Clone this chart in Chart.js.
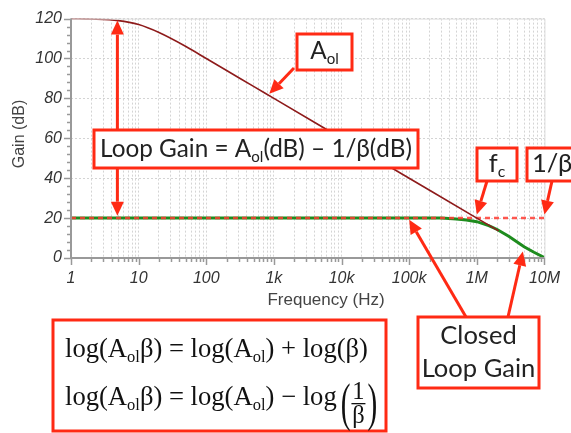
<!DOCTYPE html>
<html><head><meta charset="utf-8">
<script src="https://cdn.jsdelivr.net/npm/chart.js@4.4.0/dist/chart.umd.min.js"></script>
<style>html,body{margin:0;padding:0;background:#fff;overflow:hidden}#wrap{position:relative;width:571px;height:433px}</style>
</head><body><div id="wrap"><canvas id="c" width="571" height="433"></canvas></div>
<script>
// ---- data ----
const freqAol = [1, 2, 5, 10, 20, 50, 100, 200, 500, 1000, 1e4, 1e5, 1e6, 2.1e6];
const gainAol = [120, 119.8, 119, 117, 113, 106, 100, 94, 86, 80, 60, 40, 20, 13.6];
const freqCL  = [1, 10, 100, 1000, 1e4, 1e5, 3e5, 5e5, 7e5, 1e6, 1.5e6, 2e6, 3e6, 5e6, 7e6, 1e7];
const gainCL  = [20, 20, 20, 20, 20, 20, 20, 19.6, 19.0, 18.2, 16.2, 14.3, 10.8, 5.6, 2.9, 0.2];
const freqBeta = [1, 1e7];
const gainBeta = [20, 20];
const xMajorTicks = [1, 10, 100, 1000, 1e4, 1e5, 1e6, 1e7];
const xTickLabels = ['1', '10', '100', '1k', '10k', '100k', '1M', '10M'];
const yTicks = [0, 20, 40, 60, 80, 100, 120];

const RED = '#ff2a14';
const toXY = (xs, ys) => xs.map((x, i) => ({x: x, y: ys[i]}));

function partsWidth(ctx, parts, size, fam) {
  let w = 0;
  for (const p of parts) {
    ctx.font = (p.sub ? size * 0.62 : size) + 'px ' + fam;
    w += ctx.measureText(p.t).width;
  }
  return w;
}
function fitSize(ctx, parts, fam, target) {
  return 100 * target / partsWidth(ctx, parts, 100, fam);
}
function drawParts(ctx, parts, x, y, size, fam, align) {
  const w = partsWidth(ctx, parts, size, fam);
  let cx = align === 'center' ? x - w / 2 : x;
  ctx.textAlign = 'left';
  ctx.textBaseline = 'alphabetic';
  for (const p of parts) {
    ctx.font = (p.sub ? size * 0.62 : size) + 'px ' + fam;
    ctx.fillText(p.t, cx, p.sub ? y + size * 0.2 : y);
    cx += ctx.measureText(p.t).width;
  }
  return cx;
}
function box(ctx, x1, y1, x2, y2) {
  ctx.fillStyle = '#fff';
  ctx.fillRect(x1, y1, x2 - x1, y2 - y1);
  ctx.strokeStyle = RED;
  ctx.lineWidth = 3;
  ctx.strokeRect(x1, y1, x2 - x1, y2 - y1);
}
function arrow(ctx, x1, y1, x2, y2) {
  const a = Math.atan2(y2 - y1, x2 - x1), L = 14, H = 6.5;
  const bx = x2 - L * Math.cos(a), by = y2 - L * Math.sin(a);
  ctx.strokeStyle = RED; ctx.fillStyle = RED; ctx.lineWidth = 3;
  ctx.beginPath(); ctx.moveTo(x1, y1); ctx.lineTo(bx, by); ctx.stroke();
  ctx.beginPath();
  ctx.moveTo(x2, y2);
  ctx.lineTo(bx + H * Math.sin(a), by - H * Math.cos(a));
  ctx.lineTo(bx - H * Math.sin(a), by + H * Math.cos(a));
  ctx.closePath(); ctx.fill();
}

const SANS = 'Lato, "Open Sans", sans-serif';
const SERIF = '"Liberation Serif", "DejaVu Serif", serif';
const AXF = 'Arial, "Liberation Sans", sans-serif';

const overlay = {
  id: 'overlay',
  afterDraw(chart) {
    const ctx = chart.ctx, xs = chart.scales.x, ys = chart.scales.y, ca = chart.chartArea;
    ctx.save();
    // frame
    ctx.strokeStyle = '#dddddd'; ctx.lineWidth = 1;
    ctx.beginPath(); ctx.moveTo(ca.left, ca.top + 0.5); ctx.lineTo(ca.right + 0.5, ca.top + 0.5); ctx.lineTo(ca.right + 0.5, ca.bottom); ctx.stroke();
    // axes
    ctx.strokeStyle = '#999'; ctx.lineWidth = 2;
    ctx.beginPath(); ctx.moveTo(ca.left, ca.top); ctx.lineTo(ca.left, ca.bottom); ctx.lineTo(ca.right, ca.bottom); ctx.stroke();
    // y ticks
    ctx.lineWidth = 1.5;
    for (let v = 0; v <= 120; v += 4) {
      const y = Math.round(ys.getPixelForValue(v)) + 0.5;
      const len = v % 20 === 0 ? 7 : 4;
      ctx.beginPath(); ctx.moveTo(ca.left - len, y); ctx.lineTo(ca.left, y); ctx.stroke();
    }
    // x ticks
    for (let d = 0; d < 7; d++) {
      for (let m = 1; m <= 9; m++) {
        const x = Math.round(xs.getPixelForValue(m * Math.pow(10, d))) + 0.5;
        const len = m === 1 ? 7 : 4;
        ctx.beginPath(); ctx.moveTo(x, ca.bottom); ctx.lineTo(x, ca.bottom + len); ctx.stroke();
      }
    }
    { const x = Math.round(xs.getPixelForValue(1e7)) + 0.5;
      ctx.beginPath(); ctx.moveTo(x, ca.bottom); ctx.lineTo(x, ca.bottom + 7); ctx.stroke(); }

    // axis titles
    ctx.fillStyle = '#444';
    ctx.font = '17px ' + AXF;
    ctx.textAlign = 'center'; ctx.textBaseline = 'middle';
    ctx.fillText('Frequency (Hz)', 326, 300);
    ctx.font = '16px ' + AXF;
    ctx.save(); ctx.translate(20, 134); ctx.rotate(-Math.PI / 2);
    ctx.fillText('Gain (dB)', 0, 0); ctx.restore();

    // annotations
    const fx = 4.85;
    arrow(ctx, xs.getPixelForValue(fx), 130, xs.getPixelForValue(fx), ys.getPixelForValue(119));
    arrow(ctx, xs.getPixelForValue(fx), 168, xs.getPixelForValue(fx), ys.getPixelForValue(21.2));
    box(ctx, 94, 130, 418, 168);
    ctx.fillStyle = '#222';
    const lg = [{t: 'Loop Gain = A'}, {t: 'ol', sub: true}, {t: '(dB) \u2013 1/\u03b2(dB)'}];
    const lgSize = fitSize(ctx, lg, SANS, 312);
    drawParts(ctx, lg, 256, 157, lgSize, SANS, 'center');

    // Aol box
    arrow(ctx, 294, 68, xs.getPixelForValue(855), ys.getPixelForValue(82.3));
    box(ctx, 297, 34, 352, 70);
    ctx.fillStyle = '#222';
    drawParts(ctx, [{t: 'A'}, {t: 'ol', sub: true}], 324.5, 59, lgSize, SANS, 'center');

    // fc box
    arrow(ctx, 487, 181, xs.getPixelForValue(1e6), ys.getPixelForValue(21.8));
    box(ctx, 477, 148, 517, 181);
    ctx.fillStyle = '#222';
    drawParts(ctx, [{t: 'f'}, {t: 'c', sub: true}], 497, 172, lgSize * 1.05, SANS, 'center');

    // 1/beta box
    arrow(ctx, 552, 181, xs.getPixelForValue(1e7), ys.getPixelForValue(21.8));
    box(ctx, 527, 148, 590, 181);
    ctx.fillStyle = '#222';
    drawParts(ctx, [{t: '1/\u03b2'}], 532, 172, lgSize * 1.05, SANS, 'left');

    // Closed loop gain box
    arrow(ctx, 466, 317, xs.getPixelForValue(1e5), ys.getPixelForValue(19.2));
    arrow(ctx, 508, 317, xs.getPixelForValue(4.8e6), ys.getPixelForValue(3.2));
    box(ctx, 418, 317, 539, 388);
    ctx.fillStyle = '#222';
    drawParts(ctx, [{t: 'Closed'}], 478.5, 344, lgSize * 1.05, SANS, 'center');
    drawParts(ctx, [{t: 'Loop Gain'}], 478.5, 377, lgSize * 1.05, SANS, 'center');

    // Formula box
    box(ctx, 53, 320, 386, 431);
    ctx.fillStyle = '#111';
    const f1 = [{t: 'log(A'}, {t: 'ol', sub: true}, {t: '\u03b2) = log(A'}, {t: 'ol', sub: true}, {t: ') + log(\u03b2)'}];
    const fs = fitSize(ctx, f1, SERIF, 303);
    drawParts(ctx, f1, 65, 357, fs, SERIF, 'left');
    const f2 = [{t: 'log(A'}, {t: 'ol', sub: true}, {t: '\u03b2) = log(A'}, {t: 'ol', sub: true}, {t: ') \u2212 log'}];
    let ex = drawParts(ctx, f2, 65, 405, fs, SERIF, 'left');
    ex += 4;
    ctx.font = fs + 'px ' + SERIF;
    ctx.save(); ctx.translate(ex, 420); ctx.scale(1.1, 2.0); ctx.fillText('(', 0, 0); ctx.restore();
    const pw = ctx.measureText('(').width * 1.1;
    const cx = ex + pw + 8;
    ctx.textAlign = 'center';
    ctx.font = (fs * 0.92) + 'px ' + SERIF;
    ctx.fillText('1', cx, 399);
    ctx.fillText('\u03b2', cx, 423);
    ctx.fillRect(cx - 7, 403, 14, 1.3);
    ctx.textAlign = 'left';
    ctx.font = fs + 'px ' + SERIF;
    ctx.save(); ctx.translate(cx + 9, 420); ctx.scale(1.1, 2.0); ctx.fillText(')', 0, 0); ctx.restore();
    ctx.restore();
  }
};

new Chart(document.getElementById('c'), {
  type: 'line',
  data: {
    datasets: [
      {label: 'Closed loop', data: toXY(freqCL, gainCL), borderColor: '#1e8c1e', borderWidth: 3, pointRadius: 0, tension: 0, order: 3},
      {label: '1/beta', data: toXY(freqBeta, gainBeta), borderColor: 'rgba(255,60,50,0.85)', borderWidth: 2.5, borderDash: [5, 4], pointRadius: 0, order: 2},
      {label: 'Aol', data: toXY(freqAol, gainAol), borderColor: '#8e1b1b', borderWidth: 1.6, pointRadius: 0, tension: 0.3, cubicInterpolationMode: 'monotone', order: 1}
    ]
  },
  options: {
    responsive: false, animation: false, devicePixelRatio: 1,
    layout: {padding: {top: 15, right: 20, left: 0, bottom: 0}},
    plugins: {legend: {display: false}, tooltip: {enabled: false}},
    scales: {
      x: {
        type: 'logarithmic', min: 1, max: 1e7,
        afterBuildTicks(s) {
          const t = [];
          for (let d = 0; d < 7; d++) for (let m = 1; m <= 9; m++) t.push({value: m * Math.pow(10, d)});
          t.push({value: 1e7});
          s.ticks = t;
        },
        afterFit(s) { s.height = 175; },
        ticks: {
          autoSkip: false, maxRotation: 0, minRotation: 0, padding: 11,
          color: '#333', font: {family: AXF, size: 16, style: 'italic'},
          callback(v) { const i = xMajorTicks.indexOf(v); return i >= 0 ? xTickLabels[i] : ''; }
        },
        grid: {color: '#d4d4d4', lineWidth: 1, drawTicks: false},
        border: {display: false, dash: [2, 2]}
      },
      y: {
        min: 0, max: 120,
        afterBuildTicks(s) { s.ticks = yTicks.map(v => ({value: v})); },
        afterFit(s) { s.width = 71; },
        ticks: {padding: 9, color: '#333', font: {family: AXF, size: 16, style: 'italic'}},
        grid: {color: '#d4d4d4', lineWidth: 1, drawTicks: false},
        border: {display: false, dash: [2, 2]}
      }
    }
  },
  plugins: [overlay]
});
</script></body></html>
